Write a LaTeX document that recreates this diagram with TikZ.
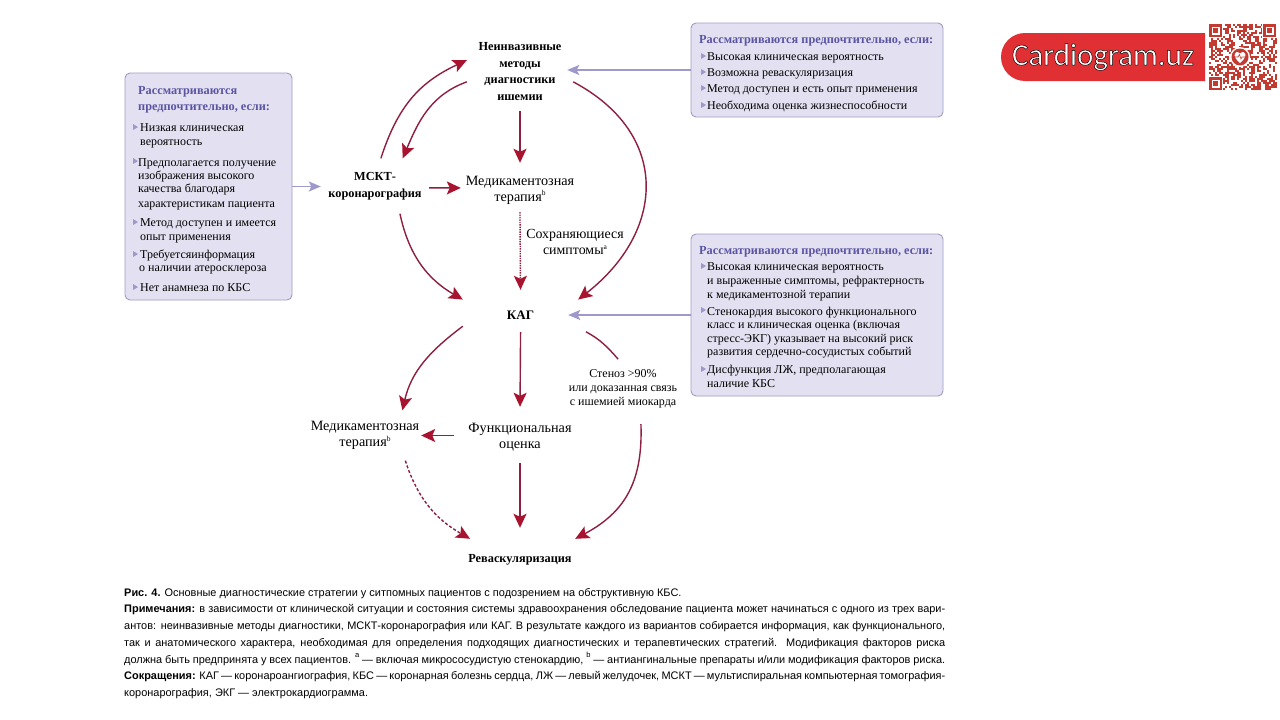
\documentclass[tikz,border=0pt]{standalone}
\usepackage{fontspec}
\setmainfont{Liberation Serif}
\newfontfamily\capfont{Liberation Sans}
\newfontfamily\logofont[RawFeature={embolden=1.6}]{Carlito}
\usetikzlibrary{arrows.meta}

\definecolor{wine}{HTML}{8E1F3F}
\definecolor{tipred}{HTML}{A8142F}
\definecolor{lilac}{HTML}{9D99CB}
\definecolor{boxfill}{HTML}{E3E1F1}
\definecolor{boxline}{HTML}{9F9CC4}
\definecolor{headcol}{HTML}{5A54A2}
\definecolor{logored}{HTML}{E03034}
\definecolor{qrred}{HTML}{C23A30}

\newcommand{\refmark}[2][5.5pt]{\raisebox{#1}{\fontsize{7.5}{7.5}\selectfont #2}}

\tikzset{
    redarrow/.style={draw=wine, line width=1.4pt, -{Stealth[length=14pt,width=13pt,inset=3pt,fill=tipred,color=tipred]}},
    lilacarrow/.style={draw=lilac, line width=1.3pt, -{Stealth[length=12pt,width=10pt,inset=2.5pt,fill=lilac,color=lilac]}},
    condbox/.style={draw=boxline, fill=boxfill, line width=0.9pt, rounded corners=5pt, inner sep=0pt},
    boldlabel/.style={font=\fontsize{12.3}{16.5}\selectfont\bfseries, align=center, inner sep=0pt},
    planelabel/.style={font=\fontsize{14.2}{16}\selectfont, align=center, inner sep=0pt},
    boxhead/.style={anchor=west, inner sep=0pt, text=headcol, font=\fontsize{12.3}{16}\selectfont\bfseries, text height=10pt, text depth=2pt},
    boxtext/.style={anchor=west, inner sep=0pt, font=\fontsize{12}{14}\selectfont, text height=10pt, text depth=2pt}
}

\begin{document}
\begin{tikzpicture}[x=1pt,y=-1pt]

    \useasboundingbox (0,0) rectangle (1280,720);
    \fill[white] (0,0) rectangle (1280,720);

    % condition boxes
    \node[condbox, minimum width=167pt, minimum height=227pt] (boxleft) at (208.5,186.5) {};
    \node[condbox, minimum width=252pt, minimum height=94pt] (boxtop) at (817,70) {};
    \node[condbox, minimum width=252pt, minimum height=162pt] (boxbottom) at (817,315) {};

    \foreach \x/\y/\t in {138/90/Рассматриваются, 138/106/{предпочтительно, если:}, 699/39/{Рассматриваются предпочтительно, если:}, 699/250/{Рассматриваются предпочтительно, если:}}
        \node[boxhead] (head\x\y) at (\x,\y) {\t};

    \foreach \x/\y/\t in {
        140/127/Низкая клиническая, 140/141/вероятность,
        138/162/Предполагается получение, 138/175/изображения высокого, 138/188/качества благодаря, 138/203/характеристикам пациента,
        140/222/Метод доступен и имеется, 140/236/опыт применения,
        140/254/Требуетсяинформация, 139/267/о наличии атеросклероза,
        140/287/Нет анамнеза по КБС,
        707/56/Высокая клиническая вероятность, 707/72/Возможна реваскуляризация,
        707/88/Метод доступен и есть опыт применения, 707/105/Необходима оценка жизнеспособности,
        707/266/Высокая клиническая вероятность, 707/280/{и выраженные симптомы, рефрактерность}, 707/294/к медикаментозной терапии,
        707/311/Стенокардия высокого функционального, 707/324/класс и клиническая оценка (включая, 707/338/стресс-ЭКГ) указывает на высокий риск, 707/351/развития сердечно-сосудистых событий,
        707/369/{Дисфункция ЛЖ, предполагающая}, 707/383/наличие КБС}
        \node[boxtext] (line\x\y) at (\x,\y) {\t};

    \foreach \x/\y in {133/127, 133/161, 133/222, 133/254, 133/287, 701/56, 701/72, 701/88, 701/105, 701/266, 701/310, 701/369}
        \fill[lilac] (\x,\y-3) -- (\x+5,\y) -- (\x,\y+3) -- cycle;

    % main labels
    \node[boldlabel, minimum width=106pt, minimum height=79pt] (noninv) at (520,71.5) {Неинвазивные\\[0.3pt]методы\\[0.3pt]диагностики\\[0.3pt]ишемии};
    \node[boldlabel, minimum width=108pt, minimum height=55pt] (mskt) at (375,186) {МСКТ-\\коронарография};
    \node[planelabel, minimum width=118pt, minimum height=54pt] (medfirst) at (520,190) {Медикаментозная\\терапия\refmark{b}};
    \node[planelabel, font=\fontsize{13.9}{16}\selectfont] (symptoms) at (575,242) {Сохраняющиеся\\симптомы\refmark{a}};
    \node[boldlabel, font=\fontsize{13}{16}\selectfont\bfseries, minimum width=115pt, minimum height=50pt] (kag) at (520.5,315) {КАГ};
    \node[planelabel, minimum width=112pt, minimum height=50pt] (medsecond) at (365,435.5) {Медикаментозная\\терапия\refmark{b}};
    \node[planelabel, minimum width=132pt, minimum height=56pt] (func) at (520,437) {Функциональная\\оценка};
    \node[font=\fontsize{12}{14}\selectfont, align=center, inner sep=0pt, minimum height=70pt] (stenosis) at (623,389) {Стеноз >90\%\\или доказанная связь\\с ишемией миокарда};
    \node[boldlabel, minimum width=110pt, minimum height=42pt] (revasc) at (520,560) {Реваскуляризация};

    % arrows
    \draw[lilacarrow] (boxleft.east) -- (boxleft.east -| mskt.west);
    \draw[lilacarrow, shorten >=-6pt] (boxtop.west) -- (boxtop.west -| noninv.east);
    \draw[lilacarrow, shorten >=-10pt] (boxbottom.west) -- (kag.east);

    \draw[redarrow] (mskt.78) to[out=72,in=205,looseness=1.05] (noninv.168);
    \draw[redarrow] (noninv.191) to[out=200,in=67] (mskt.45);
    \draw[redarrow] (noninv.south) -- (medfirst.north);
    \draw[redarrow] (noninv.-11) to[out=-28,in=38,looseness=1.3] (kag.15.7);
    \draw[redarrow] (mskt.-2) -- (medfirst.178);
    \draw[redarrow] (mskt.-48) to[out=-78,in=150] (kag.165);
    \draw[redarrow, densely dotted, shorten <=-5pt] (medfirst.south) -- (kag.north);

    \draw[redarrow] (kag.191) to[out=217,in=77] (medsecond.34);
    \draw[redarrow, shorten <=-8pt, shorten >=2pt] (kag.south) -- (func.north);
    \draw[draw=wine, line width=1.4pt, shorten <=9pt, shorten >=-7pt] (kag.-12) to[out=-30,in=130] (stenosis.105);
    \draw[redarrow] (stenosis.-63) to[out=-88,in=28,looseness=1.1] (revasc.21);
    \draw[redarrow] (func.west |- medsecond.east) -- (medsecond.east);
    \draw[redarrow, shorten <=-2pt, shorten >=11pt] (func.south) -- (revasc.north);
    \draw[redarrow, densely dashed] (medsecond.-32) to[out=-72,in=150] (revasc.157);

    % caption
    \node[anchor=north west, inner sep=0pt, text width=821pt, align=justify, font=\capfont\fontsize{10.95}{16.7}\selectfont] (caption) at (124,588) {%
        \textbf{Рис. 4.} Основные диагностические стратегии у ситпомных пациентов с подозрением на обструктивную КБС.\\
        \textbf{Примечания:} в зависимости от клинической ситуации и состояния системы здравоохранения обследование пациента может начинаться с одного из трех вари-\linebreak
        антов: неинвазивные методы диагностики, МСКТ-коронарография или КАГ. В результате каждого из вариантов собирается информация, как функционального,\linebreak
        так и анатомического характера, необходимая для определения подходящих диагностических и терапевтических стратегий. Модификация факторов риска\linebreak
        должна быть предпринята у всех пациентов. \refmark{a} — включая микрососудистую стенокардию, \refmark{b} — антиангинальные препараты и/или модификация факторов риска.\linebreak
        \textbf{Сокращения:} КАГ — коронароангиография, КБС — коронарная болезнь сердца, ЛЖ — левый желудочек, МСКТ — мультиспиральная компьютерная томография-\linebreak
        коронарография, ЭКГ — электрокардиограмма.};

    % logo
    \fill[logored] (1205,33) -- (1025,33) arc[start angle=90, end angle=270, x radius=24, y radius=-24] -- (1205,81) -- cycle;
    \node[text=white, inner sep=0pt, font=\logofont\fontsize{31}{31}\selectfont] (logo) at (1103,57) {\special{pdf:code 0 0 0 RG}Cardiogram.uz};

    % qr code
    \pgfmathsetseed{11}
    \foreach \i in {0,...,33} \foreach \j in {0,...,32} {
        \pgfmathrandominteger{\cell}{0}{1}
        \ifnum\cell=1 \fill[qrred] (1209+\i*2,24+\j*2) rectangle ++(2,2); \fi
    }
    \foreach \x/\y in {1209/24, 1263/24, 1209/77} {
        \fill[white] (\x-1,\y-1) rectangle ++(15,15);
        \fill[qrred] (\x,\y) rectangle ++(13,13);
        \fill[white] (\x+2.5,\y+2.5) rectangle ++(8,8);
        \fill[qrred] (\x+4,\y+4) rectangle ++(5,5);
    }
    \fill[white] (1240,57) circle (10);
    \fill[qrred] (1240,57) circle (8.5);
    \fill[white] (1240,63) .. controls (1231,56) and (1235,49) .. (1240,53.5) .. controls (1245,49) and (1249,56) .. (1240,63);
    \draw[qrred, line width=0.6pt] (1234,57) -- (1238,57) -- (1239.5,54.5) -- (1241,59) -- (1242,57) -- (1246,57);

\end{tikzpicture}
\end{document}
